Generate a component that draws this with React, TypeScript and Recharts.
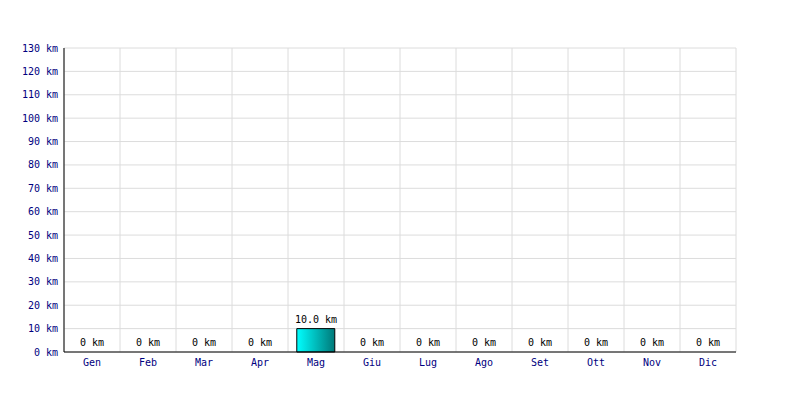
import { Bar, CartesianGrid, ComposedChart, LabelList, Line, XAxis, YAxis } from 'recharts';

const months = ['Gen', 'Feb', 'Mar', 'Apr', 'Mag', 'Giu', 'Lug', 'Ago', 'Set', 'Ott', 'Nov', 'Dic'];
const distanceKm = [0, 0, 0, 0, 10, 0, 0, 0, 0, 0, 0, 0];
const yTicks = [0, 10, 20, 30, 40, 50, 60, 70, 80, 90, 100, 110, 120, 130];

const data = months.map((month, i) => ({ month, km: distanceKm[i] }));

const FONT = '"DejaVu Sans Mono", monospace';
const NAVY = '#000080';

const formatLabel = (v: any) => (Number(v) === 0 ? '0 km' : `${Number(v).toFixed(1)} km`);

// grid lines sit on the category boundaries, not the centres
const boundaryLines = ({ offset }: any) =>
  months.map((_, i) => offset.left + (i * offset.width) / months.length).concat(offset.left + offset.width);

// value labels drawn above each point (zero-height bars get no label from Bar itself)
const ValueLabel = ({ x, y, value }: any) => (
  <text x={x} y={y - 6} textAnchor="middle" fill="#000" fontSize={10} fontFamily={FONT}>
    {formatLabel(value)}
  </text>
);

export default function App() {
  return (
    <div style={{ margin: '-8px 0 0 -8px', width: 800, height: 400, background: '#fff' }}>
      <ComposedChart
        width={800}
        height={400}
        data={data}
        margin={{ top: 48, right: 64, bottom: 18, left: 0 }}
        barCategoryGap="15.7%"
      >
        <defs>
          <linearGradient id="barFill" x1="0" y1="0" x2="1" y2="0">
            <stop offset="0%" stopColor="#00ffff" />
            <stop offset="100%" stopColor="#007878" />
          </linearGradient>
        </defs>
        <CartesianGrid stroke="#dcdcdc" verticalCoordinatesGenerator={boundaryLines} />
        <XAxis
          dataKey="month"
          height={30}
          axisLine={{ stroke: '#000' }}
          tickLine={false}
          tickSize={4}
          tickMargin={3}
          interval={0}
          tick={{ fill: NAVY, fontSize: 10, fontFamily: FONT }}
        />
        <YAxis
          width={64}
          domain={[0, 130]}
          ticks={yTicks}
          interval={0}
          axisLine={{ stroke: '#000' }}
          tickLine={false}
          tickSize={4}
          tickMargin={2}
          tickFormatter={(v) => `${v} km`}
          tick={{ fill: NAVY, fontSize: 10, fontFamily: FONT }}
        />
        <Bar dataKey="km" fill="url(#barFill)" stroke="#000" strokeWidth={1} isAnimationActive={false} />
        <Line
          dataKey="km"
          stroke="none"
          dot={false}
          activeDot={false}
          legendType="none"
          isAnimationActive={false}
        >
          <LabelList dataKey="km" content={<ValueLabel />} />
        </Line>
      </ComposedChart>
    </div>
  );
}
